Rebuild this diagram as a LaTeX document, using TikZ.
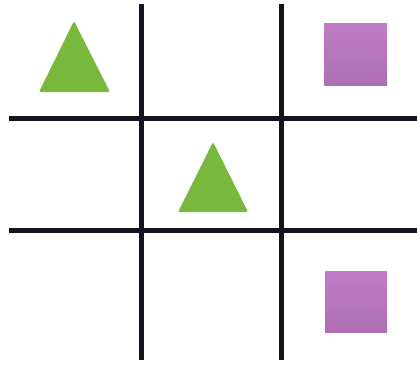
\documentclass[tikz,border=0pt]{standalone}

\definecolor{gridblack}{HTML}{14141E}
\definecolor{markgreen}{HTML}{78B83C}
\definecolor{markpurple}{HTML}{C07BC6}

\begin{document}
\begin{tikzpicture}[x=1pt, y=-1pt,
		gridline/.style={line width=5pt, draw=gridblack},
		trimark/.style={fill=markgreen, rounded corners=1.5pt},
		sqmark/.style={top color=markpurple, bottom color=markpurple!90!black}]
		% Fix the frame to the picture's size
		\useasboundingbox (0,0) rectangle (417,369);
		
		% Draw the two vertical grid lines
		\draw[gridline] (141,4) -- (141,360);
		\draw[gridline] (281,4) -- (281,360);
		
		% Draw the two horizontal grid lines
		\draw[gridline] (9,118) -- (417,118);
		\draw[gridline] (9,230) -- (417,230);
		
		% Triangles in the top left and middle cells
		\fill[trimark] (74,21) -- (110,92) -- (39,92) -- cycle;
		\fill[trimark] (213,142) -- (248,212) -- (178,212) -- cycle;
		
		% Squares in the right column
		\shade[sqmark] (324,24) rectangle (387,85);
		\shade[sqmark] (325,271) rectangle (387,332);
		
	\end{tikzpicture}
\end{document}
